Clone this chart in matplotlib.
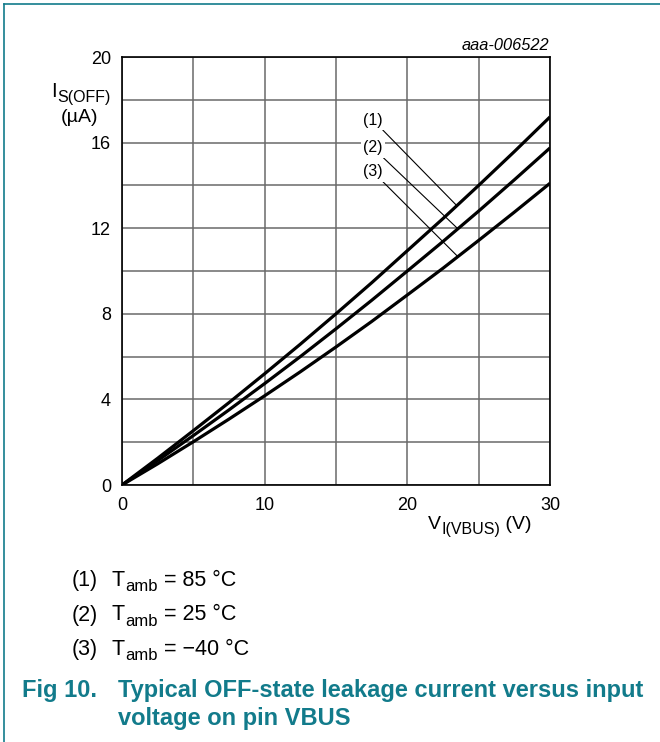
import matplotlib.pyplot as plt
from matplotlib.lines import Line2D

plt.rcParams['font.family'] = ['Liberation Sans', 'DejaVu Sans']

# data
v_in = [0, 2.5, 5, 7.5, 10, 12.5, 15, 17.5, 20, 22.5, 25, 27.5, 30]
i_85 = [0, 1.25, 2.54, 3.85, 5.2, 6.58, 8.0, 9.45, 10.95, 12.45, 14.0, 15.58, 17.2]
i_25 = [0, 1.14, 2.31, 3.51, 4.74, 6.0, 7.3, 8.63, 10.0, 11.38, 12.8, 14.26, 15.75]
i_m40 = [0, 0.99, 2.02, 3.08, 4.17, 5.29, 6.45, 7.64, 8.88, 10.13, 11.43, 12.75, 14.1]
x_ticks = [0, 5, 10, 15, 20, 25, 30]
x_labels = ['0', '', '10', '', '20', '', '30']
y_ticks = [0, 2, 4, 6, 8, 10, 12, 14, 16, 18, 20]
y_labels = ['0', '', '4', '', '8', '', '12', '', '16', '', '20']
curve_tags = ['(1)', '(2)', '(3)']
notes = ['85 \u00b0C', '25 \u00b0C', '\u221240 \u00b0C']

W, H = 660, 742
teal = '#127b8b'


def fx(px):
    return px / W


def fy(py):
    return 1 - py / H


fig = plt.figure(figsize=(6.6, 7.42), dpi=100)
renderer = fig.canvas.get_renderer()


def sub_text(x, y, main, sub, tail='', size=14, sub_size=11.5, drop=5):
    # main letter, lowered subscript, then optional tail; x, y in pixels (baseline)
    t = fig.text(fx(x), fy(y), main, fontsize=size, ha='left', va='baseline')
    x2 = t.get_window_extent(renderer).x1 + 0.5
    s = fig.text(x2 / W, fy(y + drop), sub, fontsize=sub_size, ha='left',
                 va='baseline')
    if tail:
        x3 = s.get_window_extent(renderer).x1
        fig.text(x3 / W, fy(y), tail, fontsize=size, ha='left', va='baseline')


ax = fig.add_axes([fx(122), fy(485), fx(550) - fx(122), fy(57) - fy(485)])

for series in (i_85, i_25, i_m40):
    ax.plot(v_in, series, color='black', lw=2.3, solid_capstyle='butt', zorder=4)

ax.set_xlim(0, 30)
ax.set_ylim(0, 20)
ax.set_xticks(x_ticks)
ax.set_xticklabels(x_labels)
ax.set_yticks(y_ticks)
ax.set_yticklabels(y_labels)
ax.tick_params(length=0, labelsize=13, pad=8)
ax.tick_params(axis='x', pad=9)
ax.grid(True, color='#6a6a6a', lw=1.1)
ax.set_axisbelow(True)
for s in ax.spines.values():
    s.set_linewidth(1.2)
    s.set_color('black')

# curve tags with leader lines
tag_pos = [(17.6, 17.05), (17.6, 15.75), (17.6, 14.63)]
tip = [(23.4, 13.1), (23.5, 12.0), (23.5, 10.7)]
for t, p, q in zip(curve_tags, tag_pos, tip):
    ax.annotate(t, xy=q, xytext=p, fontsize=11.5, ha='center', va='center',
                bbox=dict(boxstyle='square,pad=0.15', fc='white', ec='none'),
                arrowprops=dict(arrowstyle='-', lw=0.8, color='black',
                                shrinkA=0, shrinkB=0),
                zorder=3)

fig.text(fx(549), fy(46), 'aaa-006522', ha='right', va='center',
         fontsize=11.8, style='italic')

sub_text(51, 97, 'I', 'S(OFF)', size=14.5, sub_size=11.5, drop=5)
fig.text(fx(80), fy(117), '(\u00b5A)', ha='center', va='center', fontsize=14)
sub_text(428, 529, 'V', 'I(VBUS)', ' (V)', size=14, sub_size=11.5, drop=5)

for k, (t, n) in enumerate(zip(curve_tags, notes)):
    yy = 586 + 34.5 * k
    fig.text(fx(72), fy(yy), t, ha='left', va='baseline', fontsize=15.5)
    sub_text(112, yy, 'T', 'amb', ' = ' + n, size=15.5, sub_size=12, drop=5)

fig.text(fx(22), fy(691), 'Fig 10.', ha='left', va='center', fontsize=17,
         fontweight='bold', color=teal)
fig.text(fx(118), fy(691), 'Typical OFF-state leakage current versus input',
         ha='left', va='center', fontsize=17, fontweight='bold', color=teal)
fig.text(fx(118), fy(718), 'voltage on pin VBUS', ha='left', va='center',
         fontsize=17, fontweight='bold', color=teal)

# page frame
fig.add_artist(Line2D([fx(4), 1], [fy(4), fy(4)], color=teal, lw=1.2))
fig.add_artist(Line2D([fx(4), fx(4)], [fy(4), 0], color=teal, lw=1.2))

fig.savefig('out.png', dpi=100)
